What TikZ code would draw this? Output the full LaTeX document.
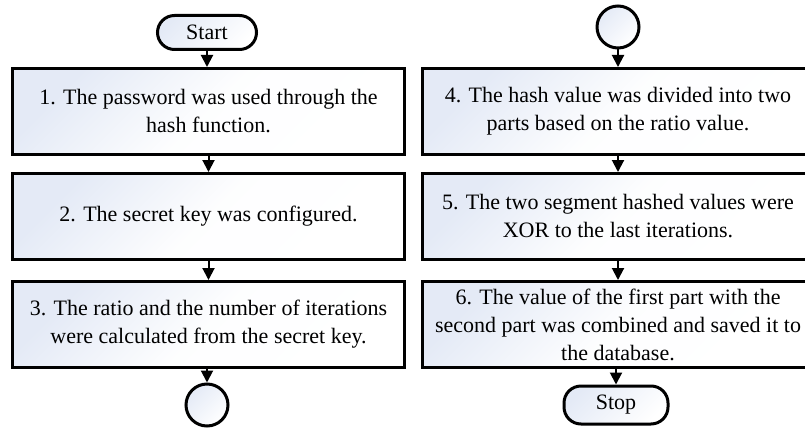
\documentclass[tikz,border=0pt]{standalone}
\usepackage{fontspec}
\setmainfont{Liberation Serif}
\usetikzlibrary{arrows.meta}
\definecolor{boxfill}{RGB}{228,234,246}
\tikzset{
  stepbox/.style={draw=black, line width=3pt, minimum width=392pt, minimum height=86pt,
    top color=boxfill, bottom color=white, middle color=white!94!boxfill, shading angle=45, align=center,
    font=\fontsize{22}{28}\selectfont, inner sep=0pt},
  term/.style={draw=black, line width=3pt, rounded corners=17pt, top color=boxfill, bottom color=white,
    shading angle=45, font=\fontsize{22}{24}\selectfont, inner sep=0pt},
  conn/.style={draw=black, line width=3pt, circle, minimum size=42pt, inner sep=0pt,
    top color=boxfill, bottom color=white, shading angle=45},
  flow/.style={line width=2pt, -{Triangle[width=12pt,length=12pt]}}
}
\begin{document}
\begin{tikzpicture}[x=1pt,y=-1pt]
\useasboundingbox (0,0) rectangle (805,428);
\clip (0,0) rectangle (805,428);
\node[term, minimum width=99pt, minimum height=34pt] (start) at (207,32.5) {Start};
\node[stepbox] (b1) at (208.5,111.5) {1. The password was used through the\\hash function.};
\node[stepbox] (b2) at (208.5,216.5) {2. The secret key was configured.};
\node[stepbox] (b3) at (208.5,324.5) {3. The ratio and the number of iterations\\were calculated from the secret key.};
\node[conn] (c1) at (207,405) {};
\node[conn] (c2) at (618,27) {};
\node[stepbox] (b4) at (618,111.5) {4. The hash value was divided into two\\parts based on the ratio value.};
\node[stepbox] (b5) at (618,216.5) {5. The two segment hashed values were\\XOR to the last iterations.};
\node[stepbox] (b6) at (618,324.5) {6. The value of the first part with the\\second part was combined and saved it to\\the database.};
\node[term, minimum width=104pt, minimum height=38pt] (stop) at (616,405) {Stop};
\draw[flow] (start) -- (start|-b1.north);
\draw[flow] (b1) -- (b2);
\draw[flow] (b2) -- (b3);
\draw[flow] (b3.south-|c1) -- (c1);
\draw[flow] (c2) -- (b4);
\draw[flow] (b4) -- (b5);
\draw[flow] (b5) -- (b6);
\draw[flow] (b6.south-|stop) -- (stop);
\end{tikzpicture}
\end{document}
